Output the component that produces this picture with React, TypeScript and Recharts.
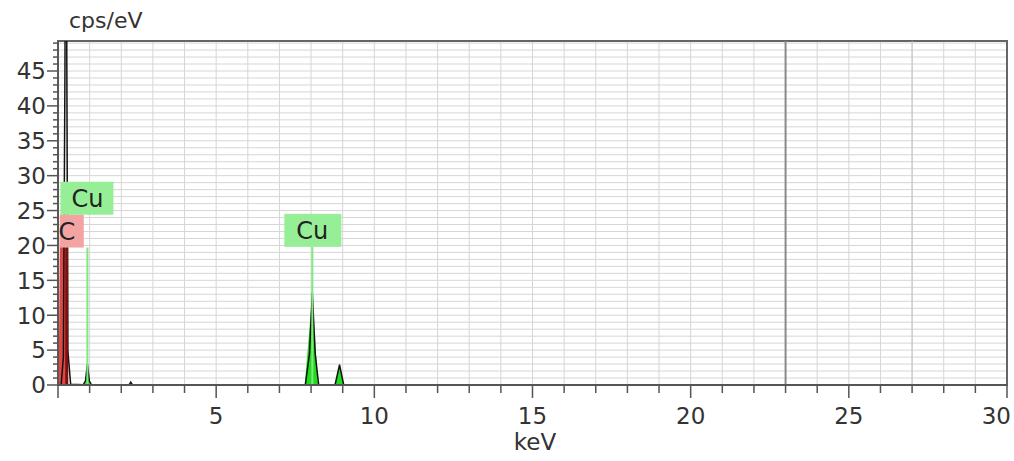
import React from "react";
import {
  ComposedChart, Line, Area, XAxis, YAxis, CartesianGrid,
  ReferenceLine, ReferenceDot, ReferenceArea,
} from "recharts";

// measured spectrum (black trace)
const spectrumKeV = [0, 0.1, 0.17, 0.22, 0.25, 0.28, 0.31, 0.4, 0.8, 0.87, 0.93, 0.99, 1.05, 2.25, 2.3, 2.35, 7.82, 7.95, 8.04, 8.13, 8.24, 8.76, 8.9, 9.03, 30];
const spectrumCps = [0, 0, 4, 45, 90, 45, 5, 0.1, 0.05, 0.6, 3.0, 0.6, 0.05, 0.05, 0.4, 0.05, 0.05, 4.5, 13.2, 4.5, 0.05, 0.05, 2.9, 0.05, 0];

// C deconvolution fill (red)
const carbonKeV = [0.02, 0.06, 0.2, 0.3, 0.32];
const carbonCps = [0, 22, 23, 22, 0];

// Cu deconvolution fill (green)
const copperKeV = [0.85, 0.93, 1.01, 7.8, 8.04, 8.22, 8.76, 8.9, 9.04];
const copperCps = [0, 3.0, 0, 0, 13.0, 0, 0, 2.8, 0];

// element line markers
const markerNames = ["C", "Cu", "Cu"];
const markerKeV = [0.277, 0.93, 8.04];
const markerLineTopCps = [19.7, 19.7, 19.8];
const markerLabelCps = [19.7, 24.4, 19.8];
const markerLine = ["#7a1010", "#7fe87f", "#7fe87f"];
const markerBox = ["#f4a3a3", "#96ee96", "#96ee96"];
// box extents left/right of the line (C box is cut by the plot edge)
const markerBoxLeft = [7, 27, 28];
const markerBoxRight = [17, 26, 29];

const xTicks = [0, 1, 2, 3, 4, 5, 6, 7, 8, 9, 10, 11, 12, 13, 14, 15, 16, 17, 18, 19, 20, 21, 22, 23, 24, 25, 26, 27, 28, 29, 30];
const yTicks = [0, 1, 2, 3, 4, 5, 6, 7, 8, 9, 10, 11, 12, 13, 14, 15, 16, 17, 18, 19, 20, 21, 22, 23, 24, 25, 26, 27, 28, 29, 30, 31, 32, 33, 34, 35, 36, 37, 38, 39, 40, 41, 42, 43, 44, 45, 46, 47, 48, 49];
const Y_MAX = 49.3;

const FONT = "'DejaVu Sans', Verdana, sans-serif";

const toPoints = (xs: number[], ys: number[]) => xs.map((x, i) => ({ keV: x, cps: ys[i] }));
const spectrum = toPoints(spectrumKeV, spectrumCps);
const carbon = toPoints(carbonKeV, carbonCps);
const copper = toPoints(copperKeV, copperCps);

const YTick = (props: any) => {
  const { x, y, payload } = props;
  const major = payload.value % 5 === 0;
  return (
    <g>
      <line x1={x - (major ? 11 : 5)} x2={x} y1={y} y2={y} stroke="#555" strokeWidth={1.5} />
      {major && (
        <text x={x - 12} y={y} dy="0.36em" textAnchor="end" fontSize={23} fill="#333" fontFamily={FONT}>
          {payload.value}
        </text>
      )}
    </g>
  );
};

const XTick = (props: any) => {
  const { x, y, payload } = props;
  const major = payload.value % 5 === 0;
  const last = payload.value === 30;
  return (
    <g>
      <line x1={x} x2={x} y1={y} y2={y + (major ? 13 : 8)} stroke="#555" strokeWidth={1.5} />
      {major && payload.value > 0 && (
        <text x={last ? x + 4 : x} y={y + 39} textAnchor={last ? "end" : "middle"} fontSize={23} fill="#333" fontFamily={FONT}>
          {payload.value}
        </text>
      )}
    </g>
  );
};

const labelShape = (name: string, fill: string, left: number, right: number) => (p: any) => (
  <g>
    <rect x={p.cx - left} y={p.cy - 33} width={left + right} height={33} fill={fill} />
    <text x={p.cx} y={p.cy - 16} dy="0.36em" textAnchor="middle" fontSize={24} fill="#222" fontFamily={FONT}>
      {name}
    </text>
  </g>
);

export default function App() {
  return (
    <div style={{ position: "absolute", left: 0, top: 0, width: 1014, height: 461, background: "#fff" }}>
      <div style={{ position: "absolute", left: 69, top: 8, fontSize: 22, fontFamily: FONT, color: "#333" }}>
        cps/eV
      </div>
      <div style={{ position: "absolute", left: 0, width: 1070, top: 429, textAlign: "center", fontSize: 23, fontFamily: FONT, color: "#333" }}>
        keV
      </div>
      <ComposedChart width={1014} height={461} margin={{ top: 41, right: 7, bottom: 0, left: 0 }}>
        <CartesianGrid stroke="#d6d6d6" strokeWidth={1} />
        <XAxis
          dataKey="keV"
          type="number"
          domain={[0, 30]}
          ticks={xTicks}
          interval={0}
          height={76}
          tickSize={0}
          tickMargin={0}
          tick={<XTick />}
          axisLine={{ stroke: "#555", strokeWidth: 2 }}
          allowDataOverflow
        />
        <YAxis
          type="number"
          domain={[0, Y_MAX]}
          ticks={yTicks}
          interval={0}
          width={58}
          tickSize={0}
          tickMargin={0}
          tick={<YTick />}
          axisLine={{ stroke: "#555", strokeWidth: 1.5 }}
          allowDataOverflow
        />
        <ReferenceLine x={23} stroke="#8a8a8a" strokeWidth={2} />
        <ReferenceLine x={27} stroke="#c4c4c4" strokeWidth={1} />
        <ReferenceArea x1={0} x2={30} y1={0} y2={Y_MAX} fill="none" stroke="#666" strokeWidth={2} ifOverflow="visible" />
        <Area data={carbon} dataKey="cps" type="linear" stroke="none" fill="#e04848" fillOpacity={1} isAnimationActive={false} />
        <Area data={copper} dataKey="cps" type="linear" stroke="none" fill="#1fdc1f" fillOpacity={1} isAnimationActive={false} />
        <Line data={spectrum} dataKey="cps" type="linear" stroke="#111" strokeWidth={1.5} dot={false} isAnimationActive={false} />
        {markerKeV.map((k, i) => (
          <ReferenceLine
            key={"l" + i}
            segment={[{ x: k, y: 0 }, { x: k, y: markerLineTopCps[i] }]}
            stroke={markerLine[i]}
            strokeWidth={i === 0 ? 3 : 2}
            ifOverflow="hidden"
          />
        ))}
        {markerKeV.map((k, i) => (
          <ReferenceDot
            key={"d" + i}
            x={k}
            y={markerLabelCps[i]}
            ifOverflow="hidden"
            shape={labelShape(markerNames[i], markerBox[i], markerBoxLeft[i], markerBoxRight[i])}
          />
        ))}
      </ComposedChart>
    </div>
  );
}
